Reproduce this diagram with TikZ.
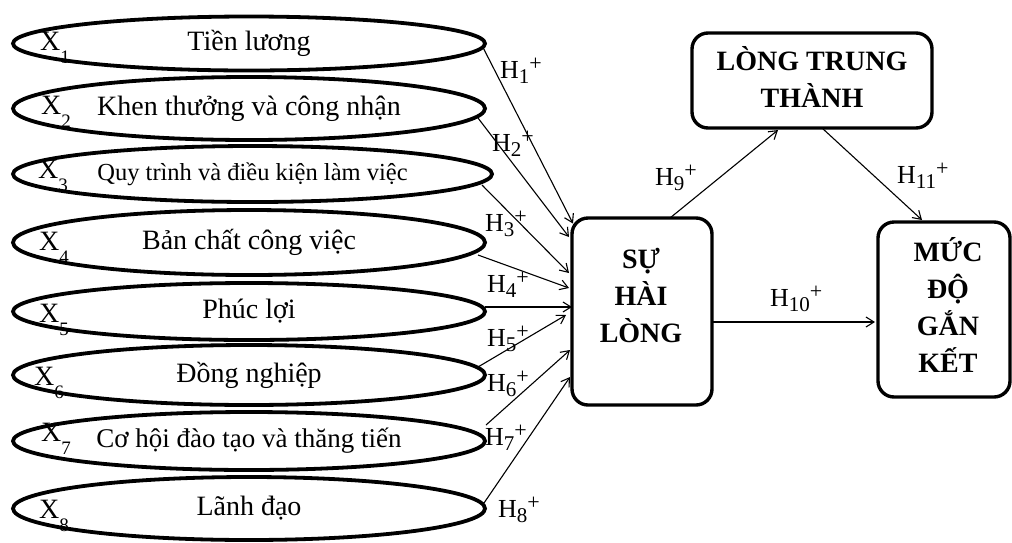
\documentclass[tikz,border=0pt]{standalone}
\usepackage{fontspec}
\setmainfont{Liberation Serif}
\usetikzlibrary{shapes.geometric,arrows.meta}

% X with a deep subscript, and H with subscript and "+"
\newcommand\xsub[1]{X\raisebox{-13pt}{\fontsize{19}{19}\selectfont #1}}
\newcommand\hsub[1]{H\raisebox{-5pt}{\fontsize{21}{21}\selectfont #1}\raisebox{8pt}{\fontsize{22}{22}\selectfont +}}

\begin{document}
\begin{tikzpicture}[x=1pt,y=-1pt,
  factor/.style={ellipse,draw,line width=3.8pt,inner sep=0pt,outer sep=0pt,
    minimum width=472pt,font=\fontsize{28}{32}\selectfont},
  xlab/.style={anchor=base west,inner sep=0pt,font=\fontsize{28}{32}\selectfont},
  hlab/.style={anchor=base west,inner sep=0pt,font=\fontsize{26}{30}\selectfont},
  rbox/.style={draw,line width=3.4pt,rounded corners=16pt,inner sep=0pt,outer sep=0pt},
  btext/.style={align=center,inner sep=0pt,font=\fontsize{28}{37}\selectfont\bfseries},
  link/.style={line width=1.1pt,-{Straight Barb[length=8pt,width=10pt]}}
]
\useasboundingbox (0,0) rectangle (1012,542);

% factor ellipses
\node[factor,minimum height=54pt] (e1) at (249,43.5) {Tiền lương};
\node[factor,minimum height=63pt] (e2) at (249,108.5) {Khen thưởng và công nhận};
\node[factor,minimum height=56pt,minimum width=479pt,font=\fontsize{24.5}{28}\selectfont] (e3) at (252.5,174) {Quy trình và điều kiện làm việc};
\node[factor,minimum height=65pt] (e4) at (249,242.5) {Bản chất công việc};
\node[factor,minimum height=57pt] (e5) at (249,311.5) {Phúc lợi};
\node[factor,minimum height=60pt] (e6) at (249,375) {Đồng nghiệp};
\node[factor,minimum height=58pt,font=\fontsize{27}{30}\selectfont] (e7) at (249,441) {Cơ hội đào tạo và thăng tiến};
\node[factor,minimum height=63pt] (e8) at (249,508.5) {Lãnh đạo};

% variable names
\node[xlab] (x1) at (40,50) {\xsub{1}};
\node[xlab] (x2) at (41,114) {\xsub{2}};
\node[xlab] (x3) at (38,178) {\xsub{3}};
\node[xlab] (x4) at (39,250) {\xsub{4}};
\node[xlab] (x5) at (39,322) {\xsub{5}};
\node[xlab] (x6) at (34,385) {\xsub{6}};
\node[xlab] (x7) at (41,441) {\xsub{7}};
\node[xlab] (x8) at (39,518) {\xsub{8}};

% construct boxes
\node[rbox,minimum width=240pt,minimum height=95pt] (ltt) at (812,80.5) {};
\node[btext] (lttl) at (812,77) {LÒNG TRUNG\\THÀNH};
\node[rbox,minimum width=140pt,minimum height=187pt] (sat) at (642,311.5) {};
\node[btext] (satl) at (641,295) {SỰ\\HÀI\\LÒNG};
\node[rbox,minimum width=132pt,minimum height=175pt] (eng) at (944,309.5) {};
\node[btext] (engl) at (948,305) {MỨC\\ĐỘ\\GẮN\\KẾT};

% paths into satisfaction
\draw[link] ([xshift=-2pt,yshift=-4pt]e1.east) -- ([xshift=1pt,yshift=88pt]sat.west);
\draw[link] ([xshift=-7pt,yshift=-9.5pt]e2.east) -- ([xshift=-3pt,yshift=74.5pt]sat.west);
\draw[link] ([xshift=-10pt,yshift=-11pt]e3.east) -- ([xshift=-3pt,yshift=38.5pt]sat.west);
\draw[link] ([xshift=-7pt,yshift=-12.5pt]e4.east) -- ([xshift=-3pt,yshift=23.5pt]sat.west);
\draw[link] ([yshift=4.5pt]e5.east) -- ([yshift=4.5pt]e5.east -| sat.west);
\draw[link] ([xshift=-7pt,yshift=8pt]e6.east) -- ([xshift=-6pt,yshift=-3.5pt]sat.west);
\draw[link] ([xshift=1pt,yshift=16pt]e7.east) -- ([xshift=-2pt,yshift=-38.5pt]sat.west);
\draw[link] ([xshift=-1pt,yshift=5.5pt]e8.east) -- ([xshift=-2pt,yshift=-65.5pt]sat.west);

% paths between constructs
\draw[link] ([xshift=28pt]sat.north) -- ([xshift=-34pt,yshift=-2pt]ltt.south);
\draw[link] ([xshift=10pt]ltt.south) -- ([xshift=-22pt,yshift=2pt]eng.north);
\draw[link,shorten >=3pt] ([yshift=-10.5pt]sat.east) -- ([yshift=-10.5pt]sat.east -| eng.west);

% hypothesis labels
\node[hlab] (h1) at (500,78) {\hsub{1}};
\node[hlab] (h2) at (492,151) {\hsub{2}};
\node[hlab] (h3) at (485,231) {\hsub{3}};
\node[hlab] (h4) at (487,292) {\hsub{4}};
\node[hlab] (h5) at (487,346) {\hsub{5}};
\node[hlab] (h6) at (487,391) {\hsub{6}};
\node[hlab] (h7) at (485,445) {\hsub{7}};
\node[hlab] (h8) at (498,517) {\hsub{8}};
\node[hlab] (h9) at (655,185) {\hsub{9}};
\node[hlab] (h10) at (770,306) {\hsub{10}};
\node[hlab] (h11) at (897,183) {\hsub{11}};
\end{tikzpicture}
\end{document}
